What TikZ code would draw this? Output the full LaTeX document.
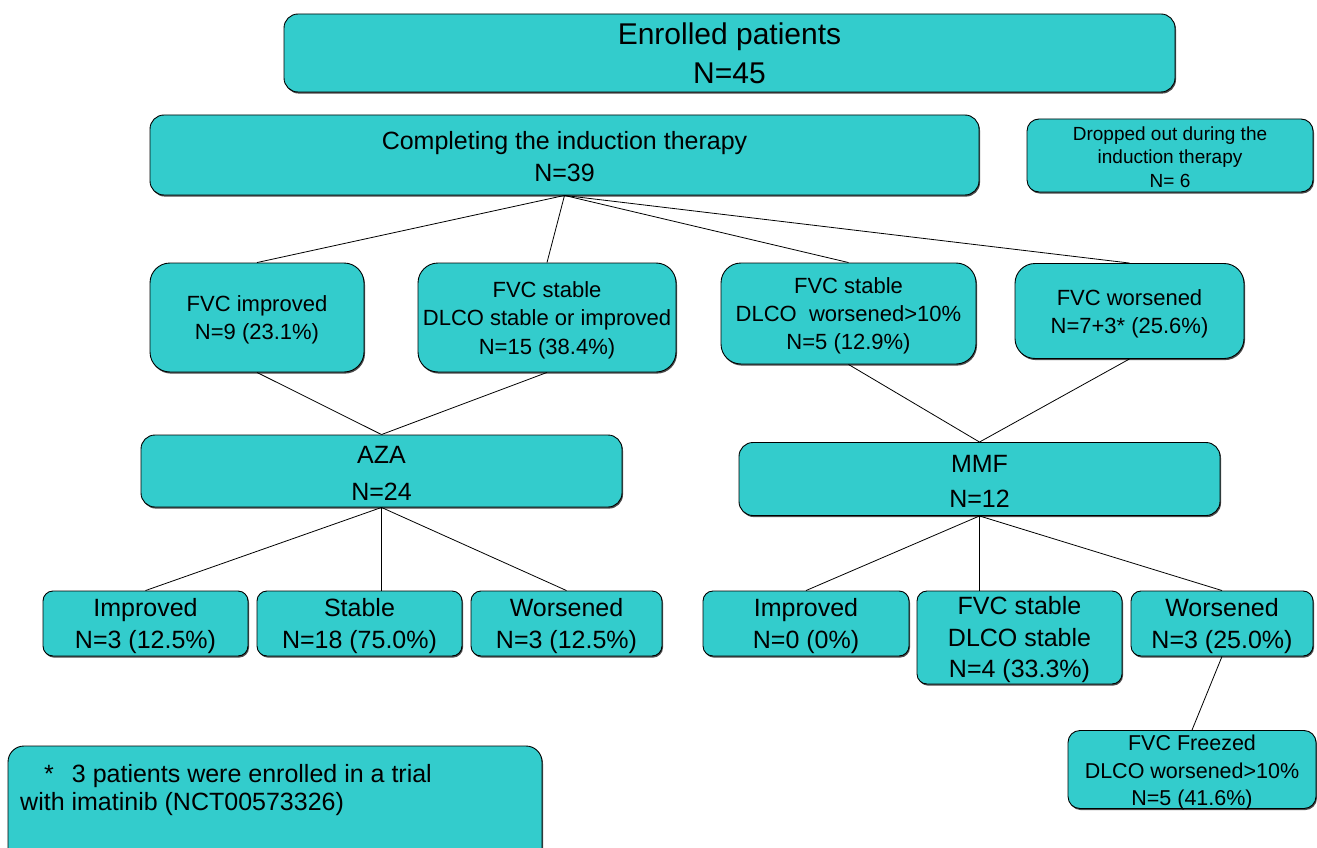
\documentclass[tikz,border=0pt]{standalone}
\usepackage{fontspec}
\setmainfont{Liberation Sans}
\usetikzlibrary{shadows}
\definecolor{teal1}{HTML}{33CCCC}
\newcommand\fsz[2]{\fontsize{#1}{#2}\selectfont}
\tikzset{
  bx/.style={draw=black, line width=0.9pt, fill=teal1, inner sep=0pt,
    rounded corners=#1, drop shadow={shadow xshift=1pt, shadow yshift=-1.6pt, fill=black!70, opacity=1}},
  bx/.default=14pt,
  txt/.style={inner sep=0pt, align=center},
  conn/.style={draw=black, line width=0.8pt}
}
% \boxtext{name}{center}{width}{height}{radius}{yshift}{font size}{baselineskip}{text}
\newcommand\boxtext[9]{%
  \node[bx=#5, minimum width=#3pt, minimum height=#4pt] (#1) at #2 {};
  \node[txt, font=\fsz{#7}{#8}] (#1-t) at ([yshift=-#6pt]#1.center) {#9};
}
\begin{document}
\begin{tikzpicture}[x=1pt,y=-1pt]
\useasboundingbox (0,0) rectangle (1317,848);
\clip (0,0) rectangle (1317,848);
% top
\boxtext{enr}{(729.5,53)}{891}{78}{14pt}{0.5}{30}{39}{Enrolled patients\\N=45}
\boxtext{comp}{(564.5,155)}{829}{80}{14pt}{2}{25}{32}{Completing the induction therapy\\N=39}
\boxtext{drop}{(1170,155.5)}{286}{73}{12pt}{1.5}{19}{23.5}{Dropped out during the\\induction therapy\\N= 6}
% second row
\boxtext{fi}{(257,317.5)}{214}{109}{20pt}{2.5}{22}{28}{FVC improved\\N=9 (23.1\%)}
\boxtext{fs}{(547,317.5)}{258}{109}{20pt}{2.5}{22}{28.5}{FVC stable\\DLCO stable or improved\\N=15 (38.4\%)}
\boxtext{fd}{(848.5,313.5)}{255}{101}{20pt}{2.5}{22}{28}{FVC stable\\DLCO\ \ worsened>10\%\\N=5 (12.9\%)}
\boxtext{fw}{(1129.5,311)}{229}{95}{20pt}{3}{22}{28}{FVC worsened\\N=7+3* (25.6\%)}
% treatment
\boxtext{aza}{(381.5,471)}{481}{72}{14pt}{2}{25}{37}{AZA\\N=24}
\boxtext{mmf}{(979.5,479)}{481}{73}{14pt}{2.5}{25}{35}{MMF\\N=12}
% outcomes
\boxtext{ai}{(145.5,623.5)}{205}{65}{10pt}{2.5}{25}{32}{Improved\\N=3 (12.5\%)}
\boxtext{as}{(359.5,623.5)}{205}{65}{10pt}{2.5}{25}{32}{Stable\\N=18 (75.0\%)}
\boxtext{aw}{(566.5,623.5)}{191}{65}{10pt}{2.5}{25}{32}{Worsened\\N=3 (12.5\%)}
\boxtext{mi}{(806,623.5)}{206}{65}{10pt}{2.5}{25}{32}{Improved\\N=0 (0\%)}
\boxtext{ms}{(1019.5,637.5)}{205}{93}{10pt}{2.5}{25}{31.5}{FVC stable\\DLCO stable\\N=4 (33.3\%)}
\boxtext{mw}{(1222,623.5)}{182}{65}{10pt}{2.5}{25}{32}{Worsened\\N=3 (25.0\%)}
\boxtext{ff}{(1192,769.5)}{248}{78}{12pt}{3}{21.5}{27.5}{FVC Freezed\\DLCO worsened>10\%\\N=5 (41.6\%)}
% footnote
\node[bx=16pt, minimum width=534pt, minimum height=124pt] (fn) at (275,808) {};
\node[anchor=north west, inner sep=0pt, align=left, font=\fsz{25}{28}] (fntext) at (20,764) {\hspace*{24pt}*\hspace{18pt}3 patients were enrolled in a trial\\with imatinib (NCT00573326)};
% connectors
\draw[conn] (comp.south) -- (fi.north);
\draw[conn] (comp.south) -- (fs.north);
\draw[conn] (comp.south) -- (fd.north);
\draw[conn] (comp.south) -- (fw.north);
\draw[conn] (fi.south) -- (aza.north);
\draw[conn] (fs.south) -- (aza.north);
\draw[conn] (fd.south) -- (mmf.north);
\draw[conn] (fw.south) -- (mmf.north);
\coordinate (asTop) at (aza.south |- as.north);
\coordinate (msTop) at (mmf.south |- ms.north);
\draw[conn] (aza.south) -- (ai.north);
\draw[conn] (aza.south) -- (asTop);
\draw[conn] (aza.south) -- (aw.north);
\draw[conn] (mmf.south) -- (mi.north);
\draw[conn] (mmf.south) -- (msTop);
\draw[conn] (mmf.south) -- (mw.north);
\draw[conn] (mw.south) -- (ff.north);
\end{tikzpicture}
\end{document}
